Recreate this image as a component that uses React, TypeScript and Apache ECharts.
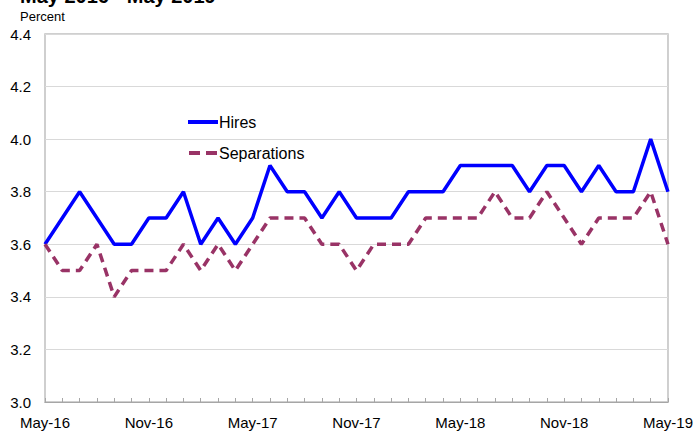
import React, { useEffect, useRef } from "react";
import * as echarts from "echarts";

const categories = [
  "May-16", "Jun-16", "Jul-16", "Aug-16", "Sep-16", "Oct-16", "Nov-16", "Dec-16",
  "Jan-17", "Feb-17", "Mar-17", "Apr-17", "May-17", "Jun-17", "Jul-17", "Aug-17",
  "Sep-17", "Oct-17", "Nov-17", "Dec-17", "Jan-18", "Feb-18", "Mar-18", "Apr-18",
  "May-18", "Jun-18", "Jul-18", "Aug-18", "Sep-18", "Oct-18", "Nov-18", "Dec-18",
  "Jan-19", "Feb-19", "Mar-19", "Apr-19", "May-19",
];

const hires = [
  3.6, 3.7, 3.8, 3.7, 3.6, 3.6, 3.7, 3.7,
  3.8, 3.6, 3.7, 3.6, 3.7, 3.9, 3.8, 3.8,
  3.7, 3.8, 3.7, 3.7, 3.7, 3.8, 3.8, 3.8,
  3.9, 3.9, 3.9, 3.9, 3.8, 3.9, 3.9, 3.8,
  3.9, 3.8, 3.8, 4.0, 3.8,
];

const separations = [
  3.6, 3.5, 3.5, 3.6, 3.4, 3.5, 3.5, 3.5,
  3.6, 3.5, 3.6, 3.5, 3.6, 3.7, 3.7, 3.7,
  3.6, 3.6, 3.5, 3.6, 3.6, 3.6, 3.7, 3.7,
  3.7, 3.7, 3.8, 3.7, 3.7, 3.8, 3.7, 3.6,
  3.7, 3.7, 3.7, 3.8, 3.6,
];

const titleText = "May 2016 - May 2019";
const unitText = "Percent";
const FONT = "'Liberation Sans', Arial, sans-serif";

export default function App() {
  const ref = useRef<HTMLDivElement>(null);

  useEffect(() => {
    if (!ref.current) return;
    const chart = echarts.init(ref.current, undefined, { renderer: "svg" });
    chart.setOption({
      animation: false,
      backgroundColor: "#ffffff",
      textStyle: { fontFamily: FONT },
      grid: {
        left: 45,
        right: 28,
        top: 34,
        bottom: 32,
        show: true,
        borderColor: "#c0c0c0",
        borderWidth: 1.5,
      },
      graphic: [
        {
          type: "text",
          x: 20,
          y: -4,
          style: {
            text: titleText,
            font: `bold 20px ${FONT}`,
            fill: "#000",
            verticalAlign: "middle",
          },
        },
        {
          type: "text",
          x: 20,
          y: 16.5,
          style: {
            text: unitText,
            font: `13px ${FONT}`,
            fill: "#000",
            verticalAlign: "middle",
          },
        },
      ],
      legend: {
        orient: "vertical",
        left: 188,
        top: 114,
        padding: 0,
        itemWidth: 30,
        itemHeight: 4,
        itemGap: 15,
        textStyle: { fontSize: 16, color: "#000", fontFamily: FONT, padding: [0, 0, 0, -4], lineHeight: 16 },
        data: [
          { name: "Hires", icon: "path://M0,0h30v4h-30z" },
          { name: "Separations", icon: "path://M0,0h11v4h-11z M17,0h11v4h-11z" },
        ],
      },
      xAxis: {
        type: "category",
        data: categories,
        boundaryGap: false,
        axisLine: { lineStyle: { color: "#a6a6a6", width: 1 } },
        axisTick: {
          show: true,
          inside: true,
          length: 4,
          interval: 0,
          lineStyle: { color: "#a6a6a6" },
        },
        axisLabel: {
          interval: 5,
          fontSize: 15,
          color: "#000",
          margin: 13,
          fontFamily: FONT,
        },
        splitLine: { show: false },
      },
      yAxis: {
        type: "value",
        min: 3.0,
        max: 4.4,
        interval: 0.2,
        axisLine: { show: false },
        axisTick: { show: false },
        axisLabel: {
          fontSize: 15,
          color: "#000",
          margin: 14,
          fontFamily: FONT,
          formatter: (v: number) => v.toFixed(1),
        },
        splitLine: { lineStyle: { color: "#d9d9d9", width: 1.2 } },
      },
      series: [
        {
          name: "Hires",
          type: "line",
          data: hires,
          symbol: "none",
          lineStyle: { color: "#0000ff", width: 3.5 },
          itemStyle: { color: "#0000ff" },
        },
        {
          name: "Separations",
          type: "line",
          data: separations,
          symbol: "none",
          lineStyle: { color: "#993366", width: 3.5, type: [9, 6] },
          itemStyle: { color: "#993366" },
        },
      ],
    });
    return () => chart.dispose();
  }, []);

  return (
    <div
      ref={ref}
      style={{ position: "fixed", left: 0, top: 0, width: 696, height: 434 }}
    />
  );
}
